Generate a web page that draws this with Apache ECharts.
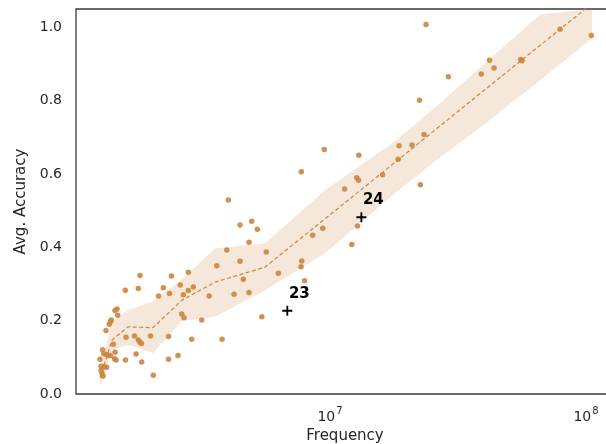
<!DOCTYPE html>
<html><head><meta charset="utf-8">
<script src="https://cdn.jsdelivr.net/npm/echarts@6/dist/echarts.min.js"></script>
<style>html,body{margin:0;padding:0;background:#fff;overflow:hidden}#c{width:606px;height:444px}</style>
</head><body><div id="c"></div>
<script>
// Scatter points: frequency (in millions) and average accuracy
const freqM = [1.264,1.276,1.314,1.342,1.276,1.287,1.299,1.295,1.307,1.342,1.362,1.387,1.447,1.425,1.440,1.460,1.334,1.374,1.389,1.399,1.447,1.473,1.482,1.587,1.590,1.597,1.724,1.748,1.784,1.784,1.811,1.836,1.839,1.811,1.991,2.042,2.140,2.234,2.341,2.341,2.362,2.404,2.549,2.602,2.636,2.691,2.674,2.797,2.797,2.884,2.926,3.155,3.375,3.612,3.789,3.952,4.009,4.220,4.453,4.453,4.587,4.828,4.828,4.947,5.203,5.418,5.636,6.284,7.730,7.758,7.709,7.955,8.563,9.370,9.497,11.40,12.16,12.72,12.93,12.81,12.96,16.05,18.45,18.61,20.92,22.38,22.54,23.30,23.72,29.00,38.97,42.01,43.74,55.61,56.27,79.17,104.9];
const acc = [0.095,0.076,0.074,0.073,0.065,0.056,0.049,0.121,0.110,0.108,0.105,0.105,0.114,0.136,0.096,0.093,0.173,0.190,0.198,0.202,0.228,0.232,0.215,0.283,0.093,0.155,0.158,0.109,0.288,0.147,0.141,0.138,0.087,0.323,0.158,0.051,0.267,0.290,0.157,0.095,0.274,0.322,0.105,0.297,0.218,0.208,0.271,0.332,0.282,0.149,0.292,0.202,0.267,0.350,0.149,0.393,0.529,0.272,0.461,0.362,0.313,0.414,0.277,0.471,0.449,0.211,0.387,0.329,0.606,0.363,0.347,0.309,0.433,0.452,0.667,0.559,0.408,0.590,0.583,0.458,0.651,0.598,0.640,0.677,0.679,0.801,0.571,0.708,1.008,0.865,0.873,0.910,0.889,0.912,0.909,0.995,0.978];

// Binned trend: mean and confidence band
const binFreqM = [1.264,1.408,1.626,2.036,2.643,3.556,5.576,9.565,17.96,26.91,39.62,66.15,105.6];
const binMean  = [0.044,0.147,0.183,0.181,0.256,0.305,0.346,0.478,0.632,0.731,0.826,0.951,1.065];
const binLow   = [0.022,0.120,0.134,0.112,0.199,0.211,0.283,0.384,0.548,0.646,0.733,0.856,0.970];
const binHigh  = [0.065,0.196,0.229,0.253,0.313,0.397,0.411,0.556,0.689,0.793,0.897,1.035,1.142];

// Highlighted models
const markFreqM = [6.813, 13.26];
const markAcc = [0.227, 0.482];
const markLabels = ['23', '24'];

const xTickExps = [7, 8];
const yTicks = [0.0, 0.2, 0.4, 0.6, 0.8, 1.0];

const M = 1e6;
const C = '#CD853F';
const TXT = '#262626';
const FONT = 'DejaVu Sans';

const chart = echarts.init(document.getElementById('c'));
chart.setOption({
  animation: false,
  backgroundColor: '#fff',
  grid: {left: 76, top: 9, right: -8, bottom: 50, outerBoundsMode: 'none', containLabel: false,
    show: true, borderColor: '#3a3a3a', borderWidth: 1.3, backgroundColor: 'transparent'},
  xAxis: {
    type: 'log', logBase: 10, min: 1.0186e6, max: 1.286e8,
    name: 'Frequency', nameLocation: 'middle', nameGap: 34,
    nameTextStyle: {fontFamily: FONT, fontSize: 15, color: TXT},
    axisLine: {show: false}, axisTick: {show: false}, splitLine: {show: false}, minorTick: {show: false},
    axisLabel: {
      margin: 12,
      formatter: function (v) {
        const l = Math.log10(v), e = Math.round(l);
        if (Math.abs(l - e) > 1e-6 || xTickExps.indexOf(e) < 0) return '';
        return '{b|10}{s|' + e + '}';
      },
      rich: {
        b: {fontFamily: FONT, fontSize: 14, color: TXT, verticalAlign: 'bottom'},
        s: {fontFamily: FONT, fontSize: 10, color: TXT, verticalAlign: 'bottom', padding: [0, 0, 8, 1]}
      }
    }
  },
  yAxis: {
    type: 'value', min: 0, max: 1.05, interval: 0.2,
    name: 'Avg. Accuracy', nameLocation: 'middle', nameGap: 40,
    nameTextStyle: {fontFamily: FONT, fontSize: 15, color: TXT},
    axisLine: {show: false}, axisTick: {show: false}, splitLine: {show: false},
    axisLabel: {
      margin: 14, fontFamily: FONT, fontSize: 14, color: TXT, showMaxLabel: false,
      formatter: function (v) {
        for (const t of yTicks) if (Math.abs(t - v) < 1e-9) return t.toFixed(1);
        return '';
      }
    }
  },
  series: [
    {
      type: 'custom', z: 1, silent: true,
      data: [[binFreqM[0] * M, binMean[0]]],
      renderItem: function (params, api) {
        const pts = [];
        for (let i = 0; i < binFreqM.length; i++) pts.push(api.coord([binFreqM[i] * M, binHigh[i]]));
        for (let i = binFreqM.length - 1; i >= 0; i--) pts.push(api.coord([binFreqM[i] * M, binLow[i]]));
        const cs = params.coordSys;
        const clipped = echarts.graphic.clipPointsByRect(pts, {x: cs.x, y: cs.y, width: cs.width, height: cs.height});
        return {type: 'polygon', shape: {points: clipped}, style: {fill: 'rgba(205,133,63,0.2)', stroke: 'none'}};
      }
    },
    {
      type: 'line', z: 2, silent: true, symbol: 'none',
      data: binFreqM.map((f, i) => [f * M, binMean[i]]),
      lineStyle: {color: C, width: 1.2, type: [4, 2.5]}
    },
    {
      type: 'scatter', z: 3, silent: true, symbolSize: 5.5,
      data: freqM.map((f, i) => [f * M, acc[i]]),
      itemStyle: {color: C, opacity: 0.9}
    },
    {
      type: 'scatter', z: 4, silent: true, symbolSize: 10,
      symbol: 'path://M4.1,0H5.9V10H4.1Z M0,4.1H10V5.9H0Z',
      data: markFreqM.map((f, i) => ({value: [f * M, markAcc[i]], name: markLabels[i]})),
      itemStyle: {color: '#000', opacity: 1},
      label: {show: true, position: 'inside', offset: [12, -17], formatter: '{b}',
        fontFamily: FONT, fontSize: 15, fontWeight: 'bold', color: '#000', textBorderWidth: 0}
    }
  ]
});
</script>
</body></html>
